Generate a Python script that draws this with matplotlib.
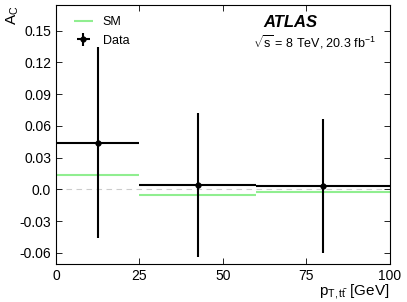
import numpy as np
import matplotlib
matplotlib.use("Agg")
import matplotlib.pyplot as plt

plt.rcParams["font.family"] = ["Liberation Sans", "DejaVu Sans"]
plt.rcParams["mathtext.fontset"] = "custom"
plt.rcParams["mathtext.rm"] = "Liberation Sans"
plt.rcParams["mathtext.it"] = "Liberation Sans:italic"

# bins in pT,tt [GeV]
bin_lo = [0, 25, 60]
bin_hi = [25, 60, 100]
data_val = [0.044, 0.004, 0.003]
data_err = [0.090, 0.068, 0.063]
data_x = [12.5, 42.5, 80]
sm_val = [0.014, -0.0055, -0.003]

fig = plt.figure(figsize=(4.07, 3.02), dpi=100)
ax = fig.add_axes([0.1376, 0.126, 0.820, 0.857])

ax.axhline(0, color="#cccccc", ls=(0, (5, 4)), lw=0.8, zorder=1)
ax.hlines(sm_val, bin_lo, bin_hi, color="#90ee90", lw=1.5, zorder=2, label="SM")

xerr = [np.subtract(data_x, bin_lo), np.subtract(bin_hi, data_x)]
ax.errorbar(data_x, data_val, yerr=data_err, xerr=xerr, fmt="o", color="black",
            ms=3.5, lw=1.5, capsize=0, zorder=3, label="Data")

ax.set_xlim(0, 100)
ax.set_ylim(-0.0705, 0.174)
ax.set_xticks([0, 25, 50, 75, 100])
ax.set_xticklabels(["0", "25", "50", "75", "100"])
ax.set_yticks([-0.06, -0.03, 0.0, 0.03, 0.06, 0.09, 0.12, 0.15])
ax.set_yticklabels(["-0.06", "-0.03", "0.0", "0.03", "0.06", "0.09", "0.12", "0.15"])
ax.tick_params(direction="in", top=True, right=True, labelsize=10, length=4, width=0.6)
for s in ax.spines.values():
    s.set_linewidth(0.8)

ax.set_ylabel(r"A$_{\mathrm{C}}$", fontsize=11, ha="right")
ax.yaxis.set_label_coords(-0.105, 1.0)
ax.set_xlabel(r"p$_{\mathrm{T,t\bar{t}}}$ [GeV]", fontsize=11, ha="right", va="top")
ax.xaxis.set_label_coords(1.0, -0.07)

ax.legend(loc="upper left", frameon=False, fontsize=9, handlelength=1.5,
          bbox_to_anchor=(0.02, 1.0))

ax.text(0.62, 0.915, "ATLAS", transform=ax.transAxes, fontsize=12,
        fontweight="bold", style="italic")
ax.text(0.59, 0.835, r"$\sqrt{\mathrm{s}}$ = 8 TeV, 20.3 fb$^{-1}$", transform=ax.transAxes,
        fontsize=9)

fig.savefig("out.png", dpi=100)
